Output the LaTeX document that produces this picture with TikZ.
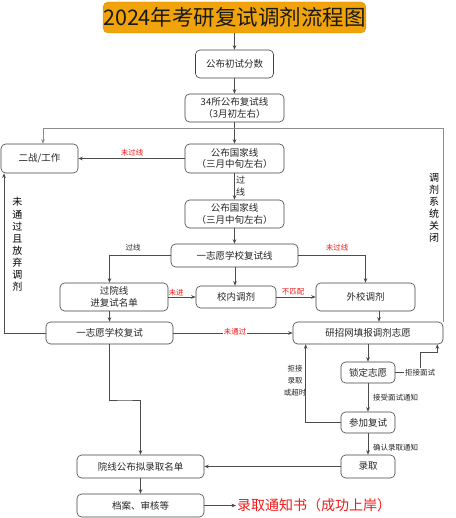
\documentclass[tikz,border=0pt]{standalone}
\usepackage{fontspec}
\setmainfont{Noto Sans CJK SC}
\usetikzlibrary{arrows.meta}
\definecolor{titleor}{HTML}{F0A30A}
\definecolor{titleedge}{HTML}{D99200}
\definecolor{lblred}{HTML}{F01818}
\begin{document}
\begin{tikzpicture}[x=1pt,y=-1pt,
  box/.style={draw=black!75, line width=0.6pt, rounded corners=4.5pt, fill=white, align=center, inner sep=0pt, font=\fontsize{9.5}{11.5}\selectfont, text=black!85},
  conn/.style={draw=black!70, line width=0.6pt, -{Stealth[length=4.5pt,width=3.6pt]}},
  plain/.style={draw=black!45, line width=0.6pt},
  lbl/.style={font=\fontsize{7.5}{9}\selectfont, text=black!85, inner sep=1pt},
  redlbl/.style={font=\fontsize{7.5}{9}\selectfont, text=lblred, inner sep=1pt},
  vlbl/.style={font=\fontsize{10}{12.1}\selectfont, align=center, text=black, inner sep=0pt}]
\useasboundingbox (0,0) rectangle (455,518);

% nodes
\node[draw=titleedge, fill=titleor, rounded corners=5pt, minimum width=260pt, minimum height=31pt, inner sep=0pt, font=\fontsize{21.5}{24}\selectfont, text=black!90] (title) at (234.5,17.5) {2024年考研复试调剂流程图};
\node[box, minimum width=78pt, minimum height=28pt] (b1) at (234.5,64) {公布初试分数};
\node[box, minimum width=99pt, minimum height=28pt] (b2) at (234.5,108) {34所公布复试线\\（3月初左右）};
\node[box, minimum width=77pt, minimum height=29pt] (b3) at (39.5,158.5) {二战/工作};
\node[box, minimum width=99pt, minimum height=29pt] (b4) at (234.5,158.5) {公布国家线\\（三月中旬左右）};
\node[box, minimum width=99pt, minimum height=28pt] (b5) at (234.5,214) {公布国家线\\（三月中旬左右）};
\node[box, minimum width=127pt, minimum height=23pt] (b6) at (234.5,255.5) {一志愿学校复试线};
\node[box, minimum width=108pt, minimum height=28pt] (b7) at (114,297) {过院线\\进复试名单};
\node[box, minimum width=80pt, minimum height=22pt] (b8) at (236,297) {校内调剂};
\node[box, minimum width=99pt, minimum height=28pt] (b9) at (365.5,297) {外校调剂};
\node[box, minimum width=127pt, minimum height=22pt] (b10) at (109.5,333) {一志愿学校复试};
\node[box, minimum width=150pt, minimum height=22pt] (b11) at (368,333) {研招网填报调剂志愿};
\node[box, minimum width=54pt, minimum height=21pt] (b12) at (368,372.5) {锁定志愿};
\node[box, minimum width=54pt, minimum height=21pt] (b13) at (368,422.5) {参加复试};
\node[box, minimum width=54pt, minimum height=23pt] (b14) at (368,466.5) {录取};
\node[box, minimum width=127pt, minimum height=23pt] (b15) at (140.5,466.5) {院线公布拟录取名单};
\node[box, minimum width=127pt, minimum height=23pt] (b16) at (140.5,505.5) {档案、审核等};
\node[font=\fontsize{14}{16}\selectfont, text=lblred, inner sep=0pt] (ft) at (314,505) {录取通知书（成功上岸）};

% coordinates
\coordinate (j1) at (234.5,128);
\coordinate (lf) at (4,333);
\coordinate (r1) at (420,352);
\coordinate (m1) at (125,400);
\coordinate (fin) at (236,505.5);

% connectors
\draw[conn] (title.south) -- (b1.north);
\draw[conn] (b1.south) -- (b2.north);
\draw[conn] (b2.south) -- (b4.north);
\draw[plain, -{Stealth[length=4.5pt,width=3.6pt]}] (j1) -| ([xshift=3.5pt]b3.north);
\draw[plain] (j1) -| (b11.north east);
\draw[conn] (b4.west) -- (b3.east);
\draw[conn] (b4.south) -- (b5.north);
\draw[conn] (b5.south) -- (b6.north);
\draw[conn] (b6.west) -| (b10.north |- b7.north);
\draw[conn] (b6.east) -| (b9.north);
\draw[conn] ([xshift=0.5pt]b6.south) -- ([xshift=0.5pt]b6.south |- b8.north);
\draw[conn] (b7.east) -- (b8.west);
\draw[conn] (b8.east) -- (b9.west);
\draw[conn] (b10.north |- b7.south) -- (b10.north);
\draw[conn] ([xshift=13.5pt]b9.south) -- ([xshift=13.5pt]b9.south |- b11.north);
\draw[conn] (b10.east) -- (b11.west);
\draw[conn] (b10.west) -- (lf) -- (lf |- b3.south);
\draw[conn] (b11.south) -- (b12.north);
\draw[conn] (b12.east) -| (r1) -| ([xshift=-6pt]b11.south east);
\draw[conn] (b12.south) -- (b13.north);
\draw[conn] (b13.west) -| ([xshift=13pt]b11.south west);
\draw[conn] (b13.south) -- (b14.north);
\draw[conn] (b14.west) -- (b15.east);
\draw[conn] (b10.south) |- (m1) -| (b15.north);
\draw[conn] (b15.south) -- (b16.north);
\draw[conn] (b16.east) -- (fin);

% labels
\node[redlbl] (l1) at (132,153) {未过线};
\node[lbl, font=\fontsize{9}{12}\selectfont, align=center] (l2) at (240.5,186) {过\\线};
\node[lbl] (l3) at (133,248) {过线};
\node[redlbl] (l4) at (337,248) {未过线};
\node[redlbl] (l5) at (176,292.5) {未进};
\node[redlbl] (l6) at (293,292) {不匹配};
\node[redlbl, fill=white] (l7) at (235,332) {未通过};
\node[lbl, fill=white] (l8) at (420,372.5) {拒接面试};
\node[lbl, anchor=west] (l9) at (372,398) {接受面试通知};
\node[lbl, anchor=west] (l10) at (372,448) {确认录取通知};
\node[lbl, align=center, font=\fontsize{7.5}{12}\selectfont] (l11) at (295,381) {拒接\\录取\\或超时};
\node[vlbl] (v1) at (17.5,244.5) {未\\通\\过\\且\\放\\弃\\调\\剂};
\node[vlbl, font=\fontsize{10}{12}\selectfont] (v2) at (434,208) {调\\剂\\系\\统\\关\\闭};
\end{tikzpicture}
\end{document}
